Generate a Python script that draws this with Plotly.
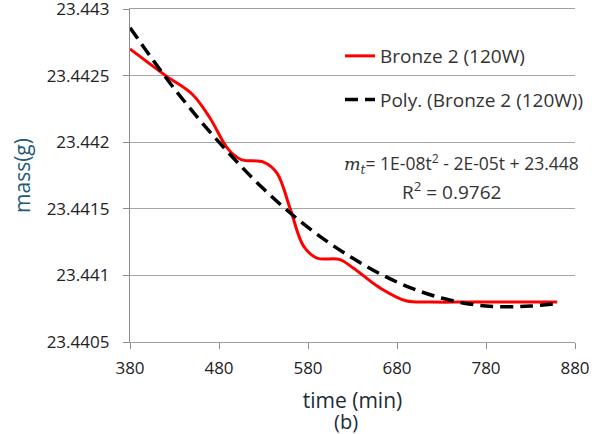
import plotly.graph_objects as go

time_red = [380, 420, 450, 470, 490, 505, 530, 545, 560, 575, 590, 615, 630, 660, 690, 720, 760, 800, 860]
mass_red = [23.44270, 23.44250, 23.44236, 23.44218, 23.44195, 23.44187, 23.44185, 23.44177, 23.44150,
            23.44122, 23.44113, 23.44112, 23.44106, 23.44091, 23.44081, 23.44080, 23.44080, 23.44080, 23.44080]

# Polynomial trendline
time_poly = [380, 430, 480, 530, 580, 630, 680, 730, 780, 830, 860]
mass_poly = [23.44286, 23.44240, 23.44200, 23.44165, 23.44136, 23.44113, 23.44095, 23.44083, 23.44077,
             23.44077, 23.44079]

x_ticks = [380, 480, 580, 680, 780, 880]
y_ticks = [23.4405, 23.441, 23.4415, 23.442, 23.4425, 23.443]
y_tick_labels = ["23.4405", "23.441", "23.4415", "23.442", "23.4425", "23.443"]

FONT = "Open Sans"
GRID = "#a6a6a6"
L, R, T, B = 130, 21, 9, 92
PW, PH = 596 - L - R, 434 - T - B


def px(xp):
    return (xp - L) / PW


def py(yp):
    return 1 - (yp - T) / PH


fig = go.Figure()
fig.add_trace(go.Scatter(
    x=time_red, y=mass_red, mode="lines", name="Bronze 2 (120W)",
    line=dict(color="#ff0000", width=3, shape="spline", smoothing=1.0),
    legendgroup="a",
))
fig.add_trace(go.Scatter(
    x=time_poly, y=mass_poly, mode="lines", name="Poly. (Bronze 2 (120W))",
    line=dict(color="#000000", width=3.5, dash="13px,7px", shape="spline", smoothing=1.0),
    legendgroup="b",
))

fig.update_layout(
    width=596, height=434,
    margin=dict(l=L, r=R, t=T, b=B, autoexpand=False),
    paper_bgcolor="white", plot_bgcolor="white",
    font=dict(family=FONT, size=17, color="#222222"),
    showlegend=True,
    legend=dict(
        x=px(340), y=py(37), xanchor="left", yanchor="top",
        bgcolor="rgba(0,0,0,0)", traceorder="grouped", tracegroupgap=16,
        font=dict(family=FONT, size=19, color="#333333"),
    ),
    xaxis=dict(
        range=[380, 880], tickvals=x_ticks, ticks="outside", ticklen=6, ticklabelstandoff=4,
        tickcolor="#8c8c8c", showline=True, mirror=True, linecolor="#a0a0a0", linewidth=1.3,
        showgrid=False, zeroline=False, automargin=False, ticklabeloverflow="allow",
        tickfont=dict(family=FONT, size=17, color="#222222"),
        title=dict(text="time (min)", font=dict(family=FONT, size=21, color="#1c2b3a"), standoff=15),
    ),
    yaxis=dict(
        range=[23.4405, 23.443], tickvals=y_ticks, ticktext=y_tick_labels,
        ticks="outside", ticklen=6, tickcolor="#8c8c8c", ticklabelstandoff=10,
        showline=True, linecolor="#8c8c8c", linewidth=1.3, ticklabeloverflow="allow",
        showgrid=True, gridcolor=GRID, gridwidth=1.3, zeroline=False, automargin=False,
        tickfont=dict(family=FONT, size=17, color="#222222"),
        title=dict(text="mass(g)", font=dict(family=FONT, size=21, color="#235a78"), standoff=10),
    ),
    annotations=[
        dict(xref="paper", yref="paper", x=px(461), y=py(163),
             xanchor="center", yanchor="middle", showarrow=False,
             text="<i><span style='font-family:DejaVu Serif'>m<sub>t</sub></span></i>= 1E-08t<sup>2</sup> - 2E-05t + 23.448",
             font=dict(family=FONT, size=17.5, color="#333333")),
        dict(xref="paper", yref="paper", x=px(451), y=py(191),
             xanchor="center", yanchor="middle", showarrow=False,
             text="R<sup>2</sup> = 0.9762",
             font=dict(family=FONT, size=19, color="#333333")),
        dict(xref="paper", yref="paper", x=px(346), y=py(421),
             xanchor="center", yanchor="middle", showarrow=False,
             text="(b)",
             font=dict(family=FONT, size=20, color="#1c2b3a")),
    ],
)

fig.write_html("out.html", config={"displayModeBar": False},
               post_script="document.body.style.margin='0';")
